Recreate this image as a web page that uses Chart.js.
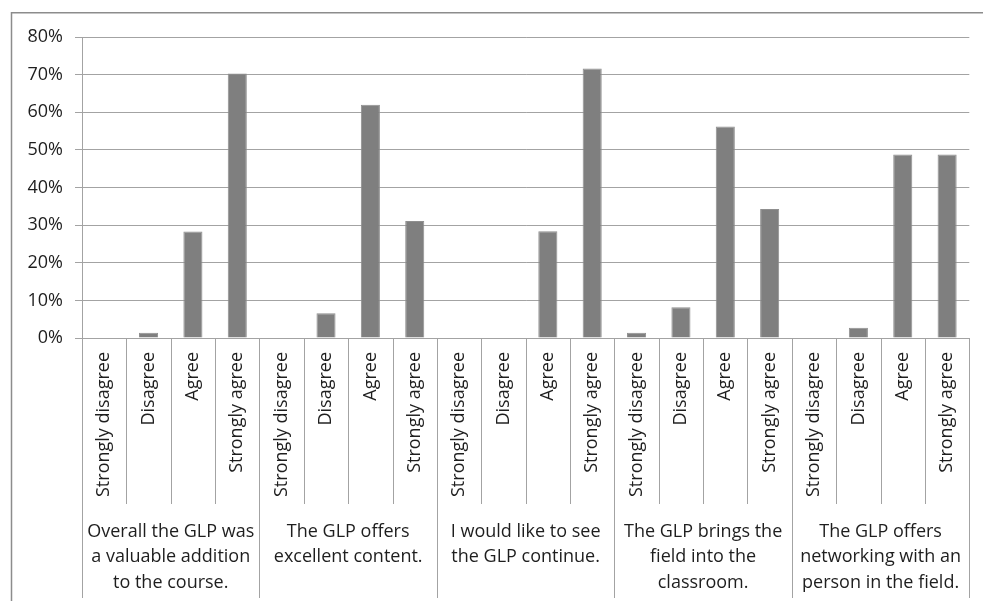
<!DOCTYPE html>
<html>
<head>
<meta charset="utf-8">
<script src="https://cdn.jsdelivr.net/npm/chart.js@4/dist/chart.umd.min.js"></script>
<style>
  html, body { margin: 0; padding: 0; background: #ffffff; }
  #wrap { position: relative; width: 983px; height: 601px; }
</style>
</head>
<body>
<div id="wrap"><canvas id="chart" width="983" height="601"></canvas></div>
<script>
// Response options shown under every statement
const responses = ['Strongly disagree', 'Disagree', 'Agree', 'Strongly agree'];

// Survey statements (pre-wrapped into lines)
const statements = [
  ['Overall the GLP was', 'a valuable addition', 'to the course.'],
  ['The GLP offers', 'excellent content.'],
  ['I would like to see', 'the GLP continue.'],
  ['The GLP brings the', 'field into the', 'classroom.'],
  ['The GLP offers', 'networking with an', 'person in the field.']
];

// Share of respondents (%) per response, one array per statement
const overallValuable = [0, 1.4, 28.3, 70.3];
const excellentContent = [0, 6.6, 62.0, 31.1];
const likeToContinue  = [0, 0, 28.4, 71.6];
const fieldToClassroom = [1.4, 8.2, 56.2, 34.3];
const networking      = [0, 2.7, 48.8, 48.8];

// Value axis ticks
const yTicks = [0, 10, 20, 30, 40, 50, 60, 70, 80];

const seriesByStatement = [overallValuable, excellentContent, likeToContinue, fieldToClassroom, networking];
const labels = [];
const values = [];
seriesByStatement.forEach(arr => {
  arr.forEach((v, i) => { labels.push(responses[i]); values.push(v); });
});

const FONT = 'Open Sans';
const TEXT = '#1e1e1e';
const LINE = '#a3a3a3';

// Outer frame and the category / statement dividers below the plot
const framePlugin = {
  id: 'frameAndDividers',
  beforeDraw(chart) {
    const ctx = chart.ctx;
    ctx.save();
    ctx.fillStyle = '#ffffff';
    ctx.fillRect(0, 0, chart.width, chart.height);
    ctx.strokeStyle = '#8c8c8c';
    ctx.lineWidth = 1.5;
    ctx.beginPath();
    ctx.moveTo(11.5, chart.height);
    ctx.lineTo(11.5, 12.75);
    ctx.lineTo(chart.width, 12.75);
    ctx.stroke();
    ctx.restore();
  },
  afterDraw(chart) {
    const ctx = chart.ctx;
    const xs = chart.scales.x;
    const xg = chart.scales.x2;
    const half = (xs.getPixelForValue(1) - xs.getPixelForValue(0)) / 2;
    const top = chart.chartArea.bottom;
    ctx.save();
    ctx.strokeStyle = LINE;
    ctx.lineWidth = 1;
    for (let i = 0; i <= labels.length; i++) {
      const px = Math.round(xs.getPixelForValue(i) - half) + 0.5;
      const bottom = (i % responses.length === 0) ? xg.bottom : xs.bottom;
      ctx.beginPath();
      ctx.moveTo(px, top);
      ctx.lineTo(px, bottom);
      ctx.stroke();
    }
    ctx.restore();
  }
};

new Chart(document.getElementById('chart'), {
  type: 'bar',
  data: {
    labels: labels,
    datasets: [{
      data: values,
      backgroundColor: '#7f7f7f',
      borderColor: '#8f8f8f',
      borderWidth: 1,
      categoryPercentage: 1,
      barPercentage: 0.43,
      xAxisID: 'x',
      yAxisID: 'y'
    }]
  },
  options: {
    responsive: false,
    animation: false,
    events: [],
    layout: { padding: { left: 0, top: 37, right: 11, bottom: 3 } },
    plugins: {
      legend: { display: false },
      tooltip: { enabled: false }
    },
    scales: {
      y: {
        min: 0,
        max: 80,
        afterBuildTicks(scale) { scale.ticks = yTicks.map(v => ({ value: v })); },
        afterFit(scale) { scale.width = 82; },
        ticks: {
          color: TEXT,
          padding: 12,
          font: { family: FONT, size: 18 },
          callback: v => v + '%'
        },
        grid: { color: LINE, lineWidth: 1, tickLength: 7, drawTicks: true },
        border: { color: LINE, width: 1 }
      },
      x: {
        type: 'category',
        position: 'bottom',
        offset: true,
        afterFit(scale) { scale.height = 166; },
        ticks: {
          color: TEXT,
          autoSkip: false,
          minRotation: 90,
          maxRotation: 90,
          padding: 14,
          font: { family: FONT, size: 18 }
        },
        grid: { display: false, drawTicks: false },
        border: { display: false }
      },
      x2: {
        type: 'category',
        position: 'bottom',
        offset: true,
        labels: statements,
        afterFit(scale) { scale.height = 94; },
        ticks: {
          color: TEXT,
          autoSkip: false,
          minRotation: 0,
          maxRotation: 0,
          padding: 15,
          font: { family: FONT, size: 18, lineHeight: 1.42 }
        },
        grid: { display: false, drawTicks: false },
        border: { display: false }
      }
    }
  },
  plugins: [framePlugin]
});
</script>
</body>
</html>
